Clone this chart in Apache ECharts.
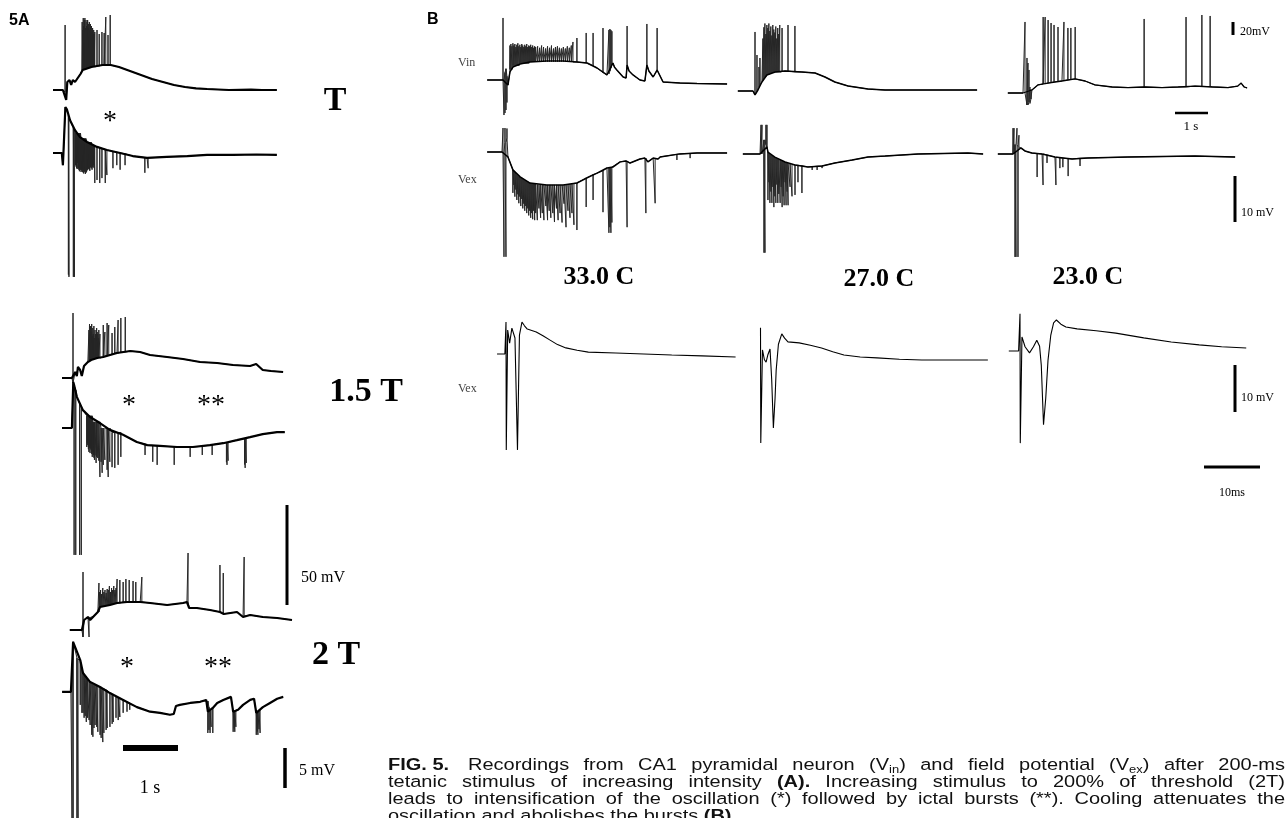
<!DOCTYPE html>
<html>
<head>
<meta charset="utf-8">
<title>FIG. 5</title>
<script src="https://cdn.jsdelivr.net/npm/echarts@6/dist/echarts.min.js"></script>
<style>
  html, body { margin: 0; padding: 0; background: #fff; }
  #chart { width: 1288px; height: 818px; }
</style>
</head>
<body>
<div id="chart"></div>
<script>
// Traces: envelope points are [time, mV]; spikes are [time, base mV, peak mV].
// Panel A: time in s from stimulus, mV from rest.

// ---- A, T ----
const aTVinEnv = [[-0.2,0],[-0.02,0],[0,-1],[0.04,-5],[0.06,4],[0.1,5],[0.13,2.5],[0.16,5],[0.2,4],[0.25,6],[0.3,8],[0.34,10],[0.5,11.5],[0.7,12.5],[0.85,12.5],[1.0,11.5],[1.2,9.5],[1.4,7.5],[1.6,5.5],[1.8,4],[2.0,2.5],[2.2,1.5],[2.4,0.8],[2.6,0.5],[3.0,0],[3.4,0.2],[3.6,0],[3.87,0]];
const aTVinSpk = [[0.02,-1,32.5],
  [0.33,10,34],[0.34,10,30],[0.35,10,36],[0.36,10,32],[0.37,10,35],[0.38,10.5,36],[0.39,10.5,31],[0.40,10.5,35],[0.41,11,32],[0.42,11,34],[0.43,11,35],[0.44,11,31],[0.45,11,33],[0.46,11,34],[0.47,11,30],[0.48,11,33],[0.49,11.5,31],[0.50,11.5,32],[0.51,11.5,29],[0.52,11.5,31],[0.53,11.5,28],[0.54,11.5,30],[0.55,11.5,28],[0.56,11.5,29],
  [0.6,12,30],[0.64,12,28],[0.69,12.5,29],[0.73,12.5,28.5],[0.76,12.5,36.5],[0.8,12.5,27.5],[0.84,12.5,37.5]];
const aTVexEnv = [[-0.2,0],[-0.04,0],[-0.02,-1.6],[-0.01,0],[0.015,0],[0.025,6.05],[0.055,5.7],[0.11,4.3],[0.2,3.0],[0.29,2.1],[0.42,1.45],[0.6,0.8],[0.78,0.4],[1.02,0],[1.25,-0.4],[1.51,-0.65],[1.87,-0.5],[2.24,-0.4],[2.6,-0.25],[3.07,-0.25],[3.5,-0.2],[3.87,-0.25]];
const aTVexSpk = [[0.08,5,-16],[0.09,4.8,-16.3],[0.17,3.3,-16.3],[0.19,3.1,-16.3],
  [0.21,2.6,-1.6],[0.22,2.6,-1.8],[0.23,2.6,-2],[0.24,2.6,-2.1],[0.25,2.6,-1.3],[0.26,2.6,-2],[0.27,2.6,-2.2],[0.28,2.6,-2.4],[0.29,2.6,-1.85],[0.3,2.6,-2.2],
  [0.31,1.9,-2.5],[0.32,1.9,-2.3],[0.33,1.9,-2.2],[0.34,1.9,-2.5],[0.35,1.9,-2.6],[0.36,1.9,-2.7],[0.37,1.9,-2.35],[0.38,1.9,-2.5],[0.39,1.9,-2.75],[0.4,1.9,-2.6],
  [0.41,1.4,-2.5],[0.42,1.4,-2.3],[0.43,1.4,-2.2],[0.44,1.4,-2.1],[0.45,1.4,-2],[0.46,1.4,-2.2],[0.47,1.4,-2.35],[0.48,1.4,-1.9],[0.49,1.4,-1.7],[0.5,1.4,-2],
  [0.51,1,-2.2],[0.52,1,-1.8],[0.53,1,-1.9],[0.54,1,-1.6],[0.55,1,-2],
  [0.56,0.9,-3.95],[0.6,0.8,-3.55],[0.65,0.7,-3.95],[0.69,0.6,-3.3],[0.75,0.5,-3.95],[0.78,0.4,-2.9],[0.89,0.2,-2],[0.96,0.1,-1.6],[1.02,0,-2.2],[1.11,-0.1,-1.6],[1.47,-0.6,-2.6],[1.53,-0.65,-2]];

// ---- A, 1.5 T ----
const a15VinEnv = [[-0.2,0],[-0.02,0],[0.04,3],[0.07,1],[0.09,5.5],[0.13,4],[0.16,1],[0.2,6],[0.27,8],[0.33,9],[0.44,10],[0.55,10.5],[0.8,12.5],[1.04,13.5],[1.22,13],[1.4,11.5],[1.71,10.5],[2.0,9.5],[2.31,8],[2.62,7.5],[2.91,6.5],[3.22,6],[3.33,7],[3.45,4],[3.6,3.5],[3.82,3]];
const a15VinSpk = [[0,-2.5,32.5],
  [0.29,9,24],[0.3,9,27],[0.31,9,22],[0.32,9,26],[0.33,9,23],[0.34,9,27],[0.35,9.5,21],[0.36,9.5,25],[0.37,9.5,22],[0.38,9.5,26],[0.39,9.5,20],[0.4,9.5,24],[0.41,10,22],[0.42,10,21],[0.43,10,25],[0.44,10,23],[0.45,10,22],[0.46,10,20],[0.47,10,24],
  [0.49,10,22],[0.55,10.5,26.5],[0.58,11,23],[0.62,11,27.5],[0.65,11.5,26.5],[0.71,12,22.5],[0.76,12.5,25.5],[0.82,12.5,29],[0.87,13,30],[0.95,13,30.5]];
const a15VexEnv = [[-0.2,0],[-0.02,0],[0,0],[0.005,6.05],[0.02,5.65],[0.07,4.1],[0.18,2.35],[0.31,1.45],[0.49,0.65],[0.67,-0.25],[0.91,-0.9],[1.16,-1.85],[1.35,-2.25],[1.58,-2.35],[1.89,-2.5],[2.18,-2.5],[2.49,-2.25],[2.73,-2.0],[2.98,-1.6],[3.22,-1.2],[3.45,-0.8],[3.71,-0.55],[3.85,-0.55]];
const a15VexSpk = [[0.02,5.6,-16.7],[0.05,5,-16.7],[0.12,3.2,-16.7],[0.15,2.8,-16.7],
  [0.25,1.6,-2.5],[0.26,1.6,-2.0],[0.27,1.6,-2.25],[0.28,1.6,-2.8],[0.29,1.6,-3.15],[0.3,1.6,-2.6],[0.31,1.6,-3.3],[0.32,1.6,-2.7],[0.33,1.6,-2.9],[0.34,1.6,-3.4],[0.35,1.6,-3.8],
  [0.36,0.8,-3.2],[0.37,0.8,-3.55],[0.38,0.8,-3.9],[0.39,0.8,-4.2],[0.4,0.8,-3.6],[0.42,0.8,-4.6],[0.43,0.8,-3.8],[0.45,0.8,-3.95],[0.47,0.8,-4.3],[0.49,0.8,-6.45],
  [0.51,0,-4.45],[0.53,0,-5.9],[0.55,0,-4.85],[0.58,0,-4.2],[0.62,0,-5.5],[0.64,0,-6.45],[0.67,0,-4.45],
  [0.71,-0.6,-5.15],[0.76,-0.6,-5.25],[0.82,-0.6,-4.85],[0.87,-0.6,-3.8],
  [1.31,-2.1,-3.55],[1.45,-2.3,-4.45],[1.53,-2.35,-4.85],[1.84,-2.5,-4.85],[2.13,-2.5,-3.8],[2.35,-2.4,-3.55],[2.53,-2.2,-3.55],[2.79,-1.9,-4.5],[2.8,-1.9,-4.85],[2.82,-1.9,-4.3],[3.12,-1.4,-4.8],[3.13,-1.4,-5.25],[3.15,-1.3,-4.6]];

// ---- A, 2 T ----
const a2VinEnv = [[-0.24,0],[-0.02,0],[0.02,5],[0.05,4],[0.09,6.5],[0.13,5],[0.2,7],[0.27,9],[0.31,11.5],[0.49,12.5],[0.62,13.5],[0.8,14],[1.04,14],[1.22,13.5],[1.53,12.5],[1.82,13.5],[1.89,14],[1.93,11],[2.07,11],[2.31,10],[2.49,9],[2.56,8],[2.8,9],[2.91,6.5],[3.04,7.5],[3.27,6.5],[3.53,6],[3.8,5]];
const a2VinSpk = [[0,-3.5,29],[0.11,6,-3.5],[0.29,9,23.5],
  [0.3,11.5,19],[0.32,11.5,20],[0.34,11.5,18],[0.36,12,21],[0.38,12,19],[0.4,12,20],[0.42,12.5,18.5],[0.44,12.5,20.5],[0.46,12.5,20],[0.48,12.5,22],[0.5,12.5,19],[0.52,13,21],[0.54,13,20],[0.56,13,22],[0.58,13,20],[0.6,13.5,21],
  [0.62,13.5,25.5],[0.67,13.5,25],[0.73,14,24],[0.78,14,25.5],[0.84,14,25],[0.91,14,24.5],[0.96,14,24],[1.07,14,26.5],
  [1.91,14,38.5],[2.49,9,32.5],[2.55,8,28.5],[2.93,7,36.5]];
const a2VexEnv = [[-0.18,0],[-0.02,0],[0.02,6.6],[0.15,4.2],[0.2,2.5],[0.33,1.3],[0.51,0.65],[0.69,-0.15],[0.93,-1.05],[1.18,-2.0],[1.42,-2.6],[1.6,-2.75],[1.78,-3.0],[1.85,-2.9],[1.89,-1.85],[1.96,-1.7],[2.15,-1.45],[2.33,-1.3],[2.44,-1.05],[2.47,-2.6],[2.56,-2.1],[2.64,-1.45],[2.75,-1.05],[2.89,-0.65],[2.93,-2.6],[3.02,-2.35],[3.11,-1.7],[3.24,-1.05],[3.31,-0.9],[3.35,-2.75],[3.47,-2.0],[3.6,-1.45],[3.73,-0.9],[3.84,-0.65]];
const a2VexSpk = [[0,0,-16.6],[0.02,6.6,-16.6],[0.09,4.5,-16.6],[0.11,4.3,-16.6],
  [0.15,4.2,-1.7],[0.18,3.0,-2.75],[0.2,2.5,-2.75],[0.22,2.2,-3.4],[0.24,2.0,-3.15],[0.26,1.8,-3.95],[0.28,1.6,-3.4],[0.31,1.4,-3.7],[0.33,1.3,-4.35],[0.36,1.1,-5.65],[0.38,1.0,-5.9],[0.4,0.9,-4.75],[0.42,0.9,-4.35],[0.45,0.8,-4.6],[0.47,0.7,-5.25],[0.51,0.65,-5.65],[0.53,0.6,-6.05],[0.56,0.5,-6.6],[0.58,0.4,-5.4],[0.62,0.3,-5.0],[0.64,0.2,-4.75],[0.69,-0.15,-4.6],[0.73,-0.3,-4.2],[0.75,-0.4,-3.95],[0.8,-0.6,-3.4],[0.84,-0.7,-3.7],[0.87,-0.8,-3.3],[0.93,-1.05,-2.75],[1.0,-1.3,-2.6],[1.05,-1.5,-2.35],[1.15,-1.9,-2.1],
  [2.47,-1.2,-5.4],[2.49,-2.0,-5.0],[2.51,-2.4,-5.4],[2.53,-2.4,-4.6],[2.56,-2.1,-5.4],
  [2.93,-2.6,-5.25],[2.95,-2.5,-4.8],[2.96,-2.5,-5.25],[2.98,-2.4,-4.6],
  [3.35,-2.75,-5.65],[3.37,-2.6,-5.2],[3.38,-2.5,-5.65],[3.4,-2.4,-4.9],[3.42,-2.3,-5.4]];

// ---- B, 33.0 C ----
const b33VinEnv = [[-0.48,0],[-0.09,0],[0,0],[0.15,-6.7],[0.21,10.7],[0.3,17.3],[0.52,21.3],[0.82,24],[1.33,25.3],[1.82,25.3],[2.24,24],[2.55,22.7],[2.85,16],[3.15,6.7],[3.21,8],[3.33,22.7],[3.38,17],[3.45,13.3],[3.64,4],[3.73,2.7],[3.76,20],[3.82,12],[3.94,6.7],[4.15,0],[4.3,-1.3],[4.36,20],[4.42,12],[4.55,4],[4.61,2.7],[4.67,13.3],[4.85,-2.7],[5.36,-4],[5.88,-4.7],[6.79,-5.3]];
const b33VinSpk = [[0,0,82.7],[0.03,0,-46.7],[0.06,10,-44],[0.09,15,-40],[0.12,5,-30],
  [0.21,14,46],[0.24,14,48],[0.27,14,45],[0.3,19,49],[0.33,19,46],[0.36,19,48],[0.39,19,44],[0.42,19,47],[0.45,19,49],[0.48,19,45],[0.51,22,47],[0.54,22,44],[0.57,22,48],[0.6,22,46],[0.63,22,44],[0.66,22,47],[0.69,22,45],[0.72,22,48],[0.75,22,44],[0.78,22,46],[0.81,24,45],[0.84,24,47],[0.87,24,44],[0.9,24,46],[0.93,24,43],[0.96,24,45],[0.99,24,44],
  [1.05,24.5,45],[1.11,24.5,43],[1.17,24.5,46],[1.23,24.5,44],[1.29,24.5,42],[1.35,24.5,45],[1.41,24.5,43],[1.47,24.5,46],[1.53,24.5,42],[1.59,24.5,44],[1.65,24.5,45],[1.71,24.5,43],[1.77,24.5,42],[1.83,24.5,44],[1.89,24.5,42],[1.95,24.5,45],[2.01,24.5,43],[2.07,24.5,46],
  [2.12,24,50.7],[2.24,24,56],[2.52,22.7,62.7],[2.73,19,62.7],[3.03,10,69.3],[3.21,8,66.7],[3.24,12,68],[3.27,16,66.7],[3.3,20,65],[3.76,20,72],[4.36,20,74.7],[4.67,13.3,69.3]];
const b33VexEnv = [[-0.48,0],[-0.03,0],[0.15,-1.05],[0.3,-3.8],[0.52,-5.3],[0.82,-6.6],[1.33,-7.0],[1.82,-7.0],[2.24,-6.6],[2.55,-5.5],[2.85,-4.5],[3.15,-3.4],[3.33,-3.2],[3.55,-2.1],[3.73,-1.9],[3.85,-2.35],[4.15,-1.5],[4.3,-1.3],[4.39,-2.1],[4.55,-1.3],[4.7,-1.5],[4.76,-1.05],[5.36,-0.4],[5.88,-0.2],[6.79,-0.2]];
const b33VexSpk = [[0,0,5.1],[0.03,0,-22.3],[0.06,2,5.1],[0.09,2,-22.3],[0.12,3,5],
  [0.3,-3.8,-8.7],[0.33,-4,-7],[0.36,-4.3,-9.5],[0.39,-4.5,-8],[0.42,-4.8,-10.2],[0.45,-5,-9],[0.48,-5.2,-10.9],[0.51,-5.3,-9.5],[0.54,-5.4,-11.5],[0.57,-5.5,-10],[0.6,-5.7,-12],[0.63,-5.8,-11],[0.66,-6,-12.5],[0.69,-6.1,-11.5],[0.72,-6.2,-13],[0.75,-6.3,-12],[0.78,-6.5,-13.5],[0.81,-6.6,-12.5],[0.84,-6.6,-14],[0.87,-6.7,-13],[0.9,-6.7,-14.3],[0.93,-6.8,-12.5],[0.96,-6.8,-14.5],[0.99,-6.8,-13],
  [1.04,-6.9,-14.5],[1.09,-6.9,-12],[1.14,-6.9,-14],[1.19,-7,-13],[1.24,-7,-14.5],[1.3,-7,-11.5],[1.35,-7,-14.5],[1.4,-7,-12.5],[1.45,-7,-14],[1.51,-7,-13],[1.56,-7,-14.9],[1.62,-7,-12],[1.67,-7,-14.5],[1.73,-7,-13],[1.79,-7,-15],[1.85,-7,-11],[1.91,-6.9,-16],[1.97,-6.9,-12.5],[2.03,-6.8,-14],[2.09,-6.8,-13],[2.15,-6.7,-15.5],[2.24,-6.6,-16.6],
  [2.52,-5.5,-11.7],[2.73,-4.8,-10.2],[3.03,-4.0,-12.8],[3.21,-3.4,-17.2],[3.24,-3.3,-16],[3.27,-3.3,-17.2],[3.3,-3.2,-15],[3.76,-2.0,-16],[4.33,-1.3,-13],[4.61,-1.4,-10.9],[5.27,-0.5,-1.7],[5.67,-0.3,-1.3]];

// ---- B, 27.0 C ----
const b27VinEnv = [[-0.52,0],[-0.06,0],[0,-5.3],[0.09,1.3],[0.21,12],[0.36,21.3],[0.61,25.3],[0.91,26.7],[1.42,25.3],[1.82,24],[2.12,18.7],[2.42,12],[2.82,6.7],[3.42,2.7],[3.94,1.3],[4.94,1.3],[6.73,1.3]];
const b27VinSpk = [[0,-5.3,78.7],[0.06,0,48],[0.12,5,32],[0.15,8,44],
  [0.24,14,70],[0.27,16,85],[0.3,18,90],[0.33,19,76],[0.36,21,88],[0.39,22,84],[0.42,22,90],[0.45,23,80],[0.48,23,86],[0.51,24,74],[0.54,24,88],[0.57,24,82],[0.6,25,78],[0.63,25,86],[0.66,25,70],[0.69,25,84],[0.72,25,76],[0.75,25,88],
  [0.82,26,84],[1.0,26.5,88],[1.21,25.5,86.7]];
const b27VexEnv = [[-0.58,0],[-0.06,0],[0.15,1.5],[0.18,0.4],[0.39,-0.65],[0.7,-1.7],[1.0,-2.35],[1.39,-2.75],[1.82,-2.55],[2.21,-1.9],[2.73,-1.3],[3.21,-0.65],[3.73,-0.45],[4.73,0],[6.24,0.2],[6.7,0]];
const b27VexSpk = [[-0.03,0,6.2],[0,0,6.2],[0.06,3,-21],[0.09,3,-21],[0.12,2,6.2],[0.15,1.5,6.2],
  [0.18,0.4,-9.8],[0.21,0.2,-6],[0.24,0,-10.4],[0.27,-0.2,-8],[0.3,-0.3,-10.4],[0.33,-0.4,-7],[0.36,-0.6,-11.3],[0.39,-0.65,-9],[0.42,-0.8,-10.4],[0.45,-0.9,-6.5],[0.48,-1,-10.4],[0.51,-1.1,-8.5],[0.55,-1.2,-10.4],[0.58,-1.3,-7],[0.61,-1.4,-11.3],[0.64,-1.5,-9],[0.67,-1.6,-10.9],[0.7,-1.7,-6],[0.73,-1.8,-10.9],[0.76,-1.9,-8],[0.79,-2,-10.9],[0.85,-2.1,-7],[0.91,-2.2,-9],[1.0,-2.35,-8.7],[1.09,-2.4,-6],[1.21,-2.5,-8.3],
  [1.52,-2.7,-3.4],[1.67,-2.6,-3.4],[1.82,-2.55,-3]];

// ---- B, 23.0 C ----
const b23VinEnv = [[-0.52,0],[-0.06,0],[0,0],[0.21,4],[0.39,10.7],[0.7,13.3],[1.12,16],[1.52,18.7],[1.82,16],[2.12,10.7],[2.64,8],[3.12,7.3],[3.64,8],[4.15,7.3],[4.64,8],[5.15,9.3],[5.67,8],[6.15,7.3],[6.45,9.3],[6.55,13.3],[6.64,8],[6.73,6.7]];
const b23VinSpk = [[0,0,94.7],[0.06,-16,46.7],[0.09,-16,40],[0.12,-12,30.7],[0.15,-14,8],[0.18,-8,5],
  [0.55,12,101.3],[0.61,12.5,101.3],[0.7,13.3,97.3],[0.79,14,93.3],[0.88,15,90.7],[1.0,15.5,88],[1.18,16.5,94.7],[1.3,17.5,86.7],[1.39,18,86.7],[1.52,18.7,88],
  [3.61,8,98.7],[4.88,8,101.3],[5.36,9,104],[5.61,8.5,102.7]];
const b23VexEnv = [[-0.55,0],[-0.09,0],[0.15,1.3],[0.27,0.65],[0.48,0.2],[0.79,0],[1.18,-0.65],[1.7,-1.05],[2.18,-0.85],[3.39,-0.65],[5.42,-0.45],[6.64,-0.65]];
const b23VexSpk = [[-0.09,0,5.5],[-0.06,0,5.5],[-0.03,2,-21.9],[0,2,-21.9],[0.03,2,5.5],[0.06,1.5,-21.9],[0.09,1.5,4],
  [0.64,0.1,-4.9],[0.82,0,-6.6],[0.94,-0.2,-1.9],[1.21,-0.7,-6.6],[1.33,-0.8,-3.0],[1.42,-0.9,-2.8],[1.58,-1.0,-4.7],[1.94,-0.9,-2.55]];

// ---- B, evoked field potentials (ms, mV) ----
const ev33 = [[-1.6,0],[-0.2,0],[0,6.8],[0.05,-20.4],[0.3,5.1],[0.65,2.3],[1.05,5.5],[1.6,3.4],[2.05,-20.4],[2.4,4.0],[2.85,6.8],[3.3,6.0],[3.8,5.3],[4.6,5.0],[5.4,4.7],[6.6,3.9],[7.8,3.0],[9.2,2.0],[10.7,1.3],[12.7,0.8],[14.7,0.4],[19.6,0.2],[24.6,0],[29.6,-0.2],[35,-0.4],[41,-0.65]];
const ev27 = [[0,6.0],[0.05,-18.5],[0.35,1.3],[0.7,-0.8],[1.0,-1.3],[1.3,0.2],[1.7,1.5],[2.0,-5],[2.3,-15.3],[2.6,-9],[2.8,-3.0],[3.2,2.5],[3.8,4.7],[4.3,3.8],[4.9,3.0],[6.9,2.8],[8.9,2.3],[10.9,1.7],[12.9,0.9],[14.9,0.2],[17.8,-0.2],[20.8,-0.4],[24.8,-0.7],[28.8,-0.85],[34.7,-0.85],[40.6,-0.85]];
const ev23 = [[-2.0,0],[-0.25,0],[0,7.9],[0.05,-19.6],[0.35,3.0],[0.9,0.9],[1.7,-0.4],[2.4,0.9],[3.0,2.3],[3.5,1.0],[3.8,-3],[4.2,-15.7],[4.6,-10],[5.0,-2],[5.5,3.4],[6.0,6.0],[6.5,6.6],[7.3,5.7],[8.2,5.1],[10.2,4.7],[13.6,4.3],[17.1,3.8],[22.1,2.8],[27,1.9],[32,1.3],[36,0.9],[40.4,0.65]];

// where each trace sits: stimulus pixel (x0, y0), px per time unit, px per mV, axis ranges
const layout = [
  { env: aTVinEnv, spk: aTVinSpk, x0: 64, y0: 90, sx: 55, sy: 2, t: [-0.2, 3.87], v: [-6, 40], w: 2.2 },
  { env: aTVexEnv, spk: aTVexSpk, x0: 64, y0: 153, sx: 55, sy: 7.6, t: [-0.2, 3.87], v: [-17, 7], w: 2.2 },
  { env: a15VinEnv, spk: a15VinSpk, x0: 73, y0: 378, sx: 55, sy: 2, t: [-0.2, 3.85], v: [-4, 34], w: 2.2 },
  { env: a15VexEnv, spk: a15VexSpk, x0: 73, y0: 428, sx: 55, sy: 7.6, t: [-0.2, 3.85], v: [-17.5, 7], w: 2.2 },
  { env: a2VinEnv, spk: a2VinSpk, x0: 83, y0: 630, sx: 55, sy: 2, t: [-0.24, 3.8], v: [-5, 40], w: 2.2 },
  { env: a2VexEnv, spk: a2VexSpk, x0: 72, y0: 692, sx: 55, sy: 7.6, t: [-0.18, 3.84], v: [-16.6, 7], w: 2.2 },
  { env: b33VinEnv, spk: b33VinSpk, x0: 503, y0: 80, sx: 33, sy: 0.75, t: [-0.48, 6.79], v: [-50, 90], w: 1.5 },
  { env: b33VexEnv, spk: b33VexSpk, x0: 503, y0: 152, sx: 33, sy: 4.7, t: [-0.48, 6.79], v: [-23, 6], w: 1.5 },
  { env: b27VinEnv, spk: b27VinSpk, x0: 755, y0: 91, sx: 33, sy: 0.75, t: [-0.52, 6.73], v: [-10, 95], w: 1.5 },
  { env: b27VexEnv, spk: b27VexSpk, x0: 762, y0: 154, sx: 33, sy: 4.7, t: [-0.58, 6.7], v: [-22, 7], w: 1.5 },
  { env: b23VinEnv, spk: b23VinSpk, x0: 1025, y0: 93, sx: 33, sy: 0.75, t: [-0.52, 6.73], v: [-20, 110], w: 1.3 },
  { env: b23VexEnv, spk: b23VexSpk, x0: 1016, y0: 154, sx: 33, sy: 4.7, t: [-0.55, 6.64], v: [-23, 6], w: 1.5 },
  { env: ev33, spk: [], x0: 506, y0: 354, sx: 5.6, sy: 4.7, t: [-2.5, 42], v: [-22, 9], w: 1.1 },
  { env: ev27, spk: [], x0: 760.5, y0: 356, sx: 5.6, sy: 4.7, t: [-2.5, 42], v: [-22, 9], w: 1.1 },
  { env: ev23, spk: [], x0: 1020, y0: 351, sx: 5.6, sy: 4.7, t: [-2.5, 42], v: [-22, 9], w: 1.1 }
];

function mergeTrace(env, spk) {
  const items = env.map(p => ({ t: p[0], k: 0, pts: [p] }));
  spk.forEach(s => items.push({ t: s[0], k: 1, pts: [[s[0], s[1]], [s[0], s[2]], [s[0], s[1]]] }));
  items.sort((a, b) => a.t - b.t || a.k - b.k);
  return items.flatMap(it => it.pts);
}

const SERIF = '"Liberation Serif", "Times New Roman", serif';
const SANS = '"Liberation Sans", Arial, sans-serif';

function txt(text, x, y, font, opts, extra) {
  return Object.assign({ type: 'text', x, y, silent: true,
    style: Object.assign({ text, font, fill: '#000', textAlign: 'left', textVerticalAlign: 'middle' }, opts || {}) }, extra || {});
}
function bar(x1, y1, x2, y2, w) {
  return { type: 'line', silent: true, shape: { x1, y1, x2, y2 }, style: { stroke: '#000', lineWidth: w } };
}

// caption, justified word by word (the print is wide and a bit squat)
const captionRows = [
  { text: '#FIG.# #5.#', x0: 388, x1: 0, y: 765, justify: false },
  { text: 'Recordings from CA1 pyramidal neuron (V~in) and field potential (V~ex) after 200-ms', x0: 468, x1: 1285, y: 765, justify: true },
  { text: 'tetanic stimulus of increasing intensity #(A).# Increasing stimulus to 200% of threshold (2T)', x0: 388, x1: 1285, y: 782, justify: true },
  { text: 'leads to intensification of the oscillation (*) followed by ictal bursts (**). Cooling attenuates the', x0: 388, x1: 1285, y: 799, justify: true },
  { text: 'oscillation and abolishes the bursts #(B).#', x0: 388, x1: 0, y: 816, justify: false }
];
const CAP_SIZE = 20, SUB_SIZE = 13, CAP_SQUASH = 0.85;
const measureCtx = document.createElement('canvas').getContext('2d');
function segFont(g) { return (g.b ? 'bold ' : '') + (g.s ? SUB_SIZE : CAP_SIZE) + 'px ' + SANS; }
function segWidth(g) { measureCtx.font = segFont(g); return measureCtx.measureText(g.text).width; }
function parseWord(w) {
  const segs = [];
  w.replace(/#([^#]+)#|~([a-z]+)|([^#~]+)/g, (m, b, s, n) => {
    if (b) segs.push({ text: b, b: true });
    else if (s) segs.push({ text: s, s: true });
    else segs.push({ text: n });
    return m;
  });
  return segs;
}
function captionGraphics(row) {
  const words = row.text.split(' ').map(parseWord);
  const widths = words.map(segs => segs.reduce((s, g) => s + segWidth(g), 0));
  const total = widths.reduce((a, b) => a + b, 0);
  const space = segWidth({ text: ' ' });
  const gap = row.justify && words.length > 1 ? Math.max(2, (row.x1 - row.x0 - total) / (words.length - 1)) : space;
  const out = [];
  let x = row.x0;
  words.forEach(segs => {
    segs.forEach(g => {
      out.push(txt(g.text, x, row.y + (g.s ? 5 : 0), segFont(g), { fill: '#111' }, { scaleY: CAP_SQUASH }));
      x += segWidth(g);
    });
    x += gap;
  });
  return out;
}

const grids = [], xAxes = [], yAxes = [], series = [];
layout.forEach((L, i) => {
  grids.push({
    left: L.x0 + L.t[0] * L.sx,
    top: L.y0 - L.v[1] * L.sy,
    width: (L.t[1] - L.t[0]) * L.sx,
    height: (L.v[1] - L.v[0]) * L.sy,
    show: false
  });
  xAxes.push({ type: 'value', gridIndex: i, min: L.t[0], max: L.t[1], show: false });
  yAxes.push({ type: 'value', gridIndex: i, min: L.v[0], max: L.v[1], show: false });
  const common = { type: 'line', xAxisIndex: i, yAxisIndex: i, symbol: 'none', silent: true, animation: false, clip: false };
  if (L.spk.length) {
    series.push(Object.assign({}, common, { data: mergeTrace(L.env, L.spk), lineStyle: { color: '#262626', width: 1 } }));
  }
  series.push(Object.assign({}, common, { data: L.env, lineStyle: { color: '#000', width: L.w } }));
});

const labels = [
  txt('5A', 9, 21, 'bold 16px ' + SANS),
  txt('B', 427, 20, 'bold 16px ' + SANS),
  // panel A stimulus strength and markers
  txt('T', 335, 101, 'bold 34px ' + SERIF, { textAlign: 'center' }),
  txt('1.5 T', 366, 392, 'bold 34px ' + SERIF, { textAlign: 'center' }),
  txt('2 T', 336, 655, 'bold 34px ' + SERIF, { textAlign: 'center' }),
  txt('*', 110, 122, '28px ' + SERIF, { textAlign: 'center' }),
  txt('*', 129, 406, '28px ' + SERIF, { textAlign: 'center' }),
  txt('**', 211, 406, '28px ' + SERIF, { textAlign: 'center' }),
  txt('*', 127, 668, '28px ' + SERIF, { textAlign: 'center' }),
  txt('**', 218, 668, '28px ' + SERIF, { textAlign: 'center' }),
  txt('50 mV', 301, 578, '16px ' + SERIF),
  txt('1 s', 150, 788, '18px ' + SERIF, { textAlign: 'center' }),
  txt('5 mV', 299, 771, '16px ' + SERIF),
  // panel B
  txt('Vin', 458, 63, '12px ' + SERIF, { fill: '#444' }),
  txt('Vex', 458, 180, '12px ' + SERIF, { fill: '#444' }),
  txt('Vex', 458, 389, '12px ' + SERIF, { fill: '#444' }),
  txt('33.0 C', 599, 277, 'bold 26px ' + SERIF, { textAlign: 'center' }),
  txt('27.0 C', 879, 279, 'bold 26px ' + SERIF, { textAlign: 'center' }),
  txt('23.0 C', 1088, 277, 'bold 26px ' + SERIF, { textAlign: 'center' }),
  txt('20mV', 1240, 32, '12px ' + SERIF),
  txt('1 s', 1191, 127, '13px ' + SERIF, { textAlign: 'center' }),
  txt('10 mV', 1241, 213, '12px ' + SERIF),
  txt('10 mV', 1241, 398, '12px ' + SERIF),
  txt('10ms', 1232, 493, '12px ' + SERIF, { textAlign: 'center' })
];
const scaleBars = [
  bar(287, 505, 287, 605, 3),
  bar(123, 748, 178, 748, 6),
  bar(285, 748, 285, 788, 3.5),
  bar(1233, 22, 1233, 35, 3),
  bar(1175, 113, 1208, 113, 2.5),
  bar(1235, 176, 1235, 222, 3),
  bar(1235, 365, 1235, 412, 3),
  bar(1204, 467, 1260, 467, 3)
];

const chart = echarts.init(document.getElementById('chart'), null, { renderer: 'canvas' });
chart.setOption({
  backgroundColor: '#fff',
  animation: false,
  grid: grids,
  xAxis: xAxes,
  yAxis: yAxes,
  series: series,
  graphic: labels.concat(scaleBars, captionRows.flatMap(captionGraphics))
});
</script>
</body>
</html>
